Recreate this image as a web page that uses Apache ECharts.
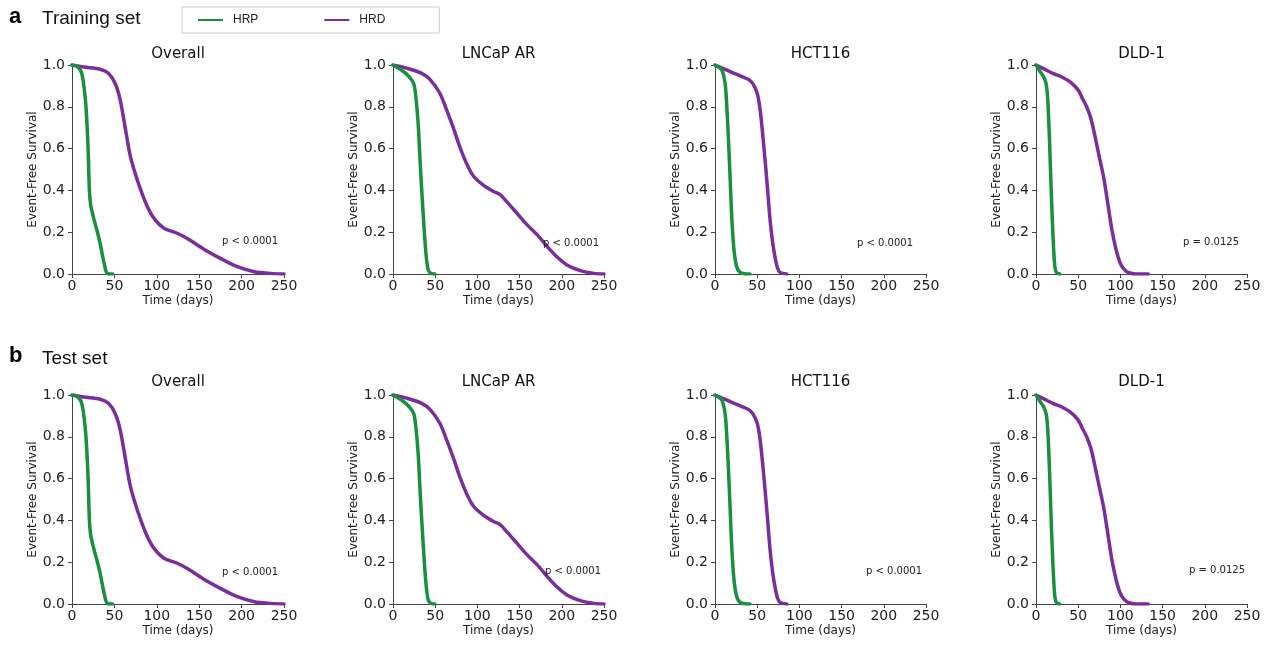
<!DOCTYPE html>
<html>
<head>
<meta charset="utf-8">
<script src="https://cdn.jsdelivr.net/npm/echarts@6/dist/echarts.min.js"></script>
<style>
  html, body { margin: 0; padding: 0; background: #ffffff; }
  #chart { width: 1270px; height: 646px; }
</style>
</head>
<body>
<div id="chart"></div>
<script>
// ---------- DATA ----------
const panelTitles = ['Overall', 'LNCaP AR', 'HCT116', 'DLD-1'];
const seriesNames = ['HRP', 'HRD'];
const xTicks = [0, 50, 100, 150, 200, 250];
const yTicks = [0.0, 0.2, 0.4, 0.6, 0.8, 1.0];
const pTextsTrain = ['p < 0.0001', 'p < 0.0001', 'p < 0.0001', 'p = 0.0125'];
const pTextsTest = ['p < 0.0001', 'p < 0.0001', 'p < 0.0001', 'p = 0.0125'];

// Overall
const overallHRP_t = [0, 5, 10, 12, 14, 16.5, 19, 20.5, 22, 23.6, 26, 30, 33, 35.4, 38, 40.5, 44, 48];
const overallHRP_s = [1, 0.995, 0.975, 0.95, 0.9, 0.8, 0.6, 0.4, 0.33, 0.3, 0.26, 0.2, 0.15, 0.1, 0.05, 0.01, 0, 0];
const overallHRD_t = [0, 14, 33, 43, 51, 57, 64, 69, 77, 87, 96, 108, 124, 136, 155, 175, 195, 215, 234, 250];
const overallHRD_s = [1, 0.99, 0.98, 0.96, 0.91, 0.83, 0.67, 0.56, 0.45, 0.34, 0.27, 0.22, 0.195, 0.17, 0.12, 0.075, 0.035, 0.011, 0.003, 0];
// LNCaP AR
const lncapHRP_t = [0, 12, 20, 24.6, 27, 29.8, 32.5, 35.7, 39, 41.7, 45, 49.6];
const lncapHRP_s = [1, 0.97, 0.94, 0.91, 0.85, 0.72, 0.51, 0.29, 0.10, 0.02, 0.003, 0];
const lncapHRD_t = [0, 16, 34, 44, 55.5, 63.5, 71.4, 79, 87, 95, 107, 119, 127, 135, 147, 159, 171, 183, 194, 206, 222, 238, 250];
const lncapHRD_s = [1, 0.985, 0.96, 0.93, 0.865, 0.785, 0.70, 0.61, 0.53, 0.47, 0.425, 0.395, 0.38, 0.345, 0.29, 0.235, 0.187, 0.13, 0.083, 0.043, 0.016, 0.003, 0];
// HCT116
const hctHRP_t = [0, 8, 12, 14, 16, 18, 20, 22.5, 25.7, 29.7, 35, 41.5];
const hctHRP_s = [1, 0.976, 0.91, 0.80, 0.64, 0.45, 0.26, 0.115, 0.035, 0.008, 0.001, 0];
const hctHRD_t = [0, 10, 20, 30, 40, 45, 50, 53, 56, 59, 62, 65, 68, 71, 74, 77, 85];
const hctHRD_s = [1, 0.983, 0.965, 0.948, 0.93, 0.91, 0.865, 0.80, 0.69, 0.56, 0.42, 0.27, 0.16, 0.083, 0.03, 0.008, 0];
// DLD-1
const dldHRP_t = [0, 5, 9, 12, 14, 16, 18, 20, 22, 24, 28];
const dldHRP_s = [1, 0.968, 0.944, 0.91, 0.83, 0.64, 0.40, 0.195, 0.05, 0.008, 0];
const dldHRD_t = [0, 10, 20, 30, 40, 50, 55, 60, 65, 70, 75, 80, 85, 90, 95, 100, 105, 110, 118, 133];
const dldHRD_s = [1, 0.98, 0.96, 0.944, 0.92, 0.88, 0.84, 0.80, 0.745, 0.657, 0.56, 0.466, 0.34, 0.21, 0.115, 0.05, 0.02, 0.006, 0, 0];

// Test set curves (identical to the training panels in the reference)
const trainCurves = [
  [[overallHRP_t, overallHRP_s], [overallHRD_t, overallHRD_s]],
  [[lncapHRP_t, lncapHRP_s], [lncapHRD_t, lncapHRD_s]],
  [[hctHRP_t, hctHRP_s], [hctHRD_t, hctHRD_s]],
  [[dldHRP_t, dldHRP_s], [dldHRD_t, dldHRD_s]]
];
const testCurves = trainCurves;

// ---------- LAYOUT / STYLE ----------
const colors = ['#17903f', '#7b2d9d'];
const FONT = 'DejaVu Sans';
const gridLefts = [72, 393, 715, 1036];
const gridWidths = [212, 211, 211, 211];
const rowTops = [65, 395];
const gridHeight = 209;
const titleCY = [55, 383];
const pPos = [
  [[250, 241], [571, 243], [885, 243], [1211, 242]],
  [[250, 572], [573, 571], [894, 571], [1217, 570]]
];

const grids = [], xAxes = [], yAxes = [], series = [], titles = [], graphics = [];

const rows = [trainCurves, testCurves];
const pTexts = [pTextsTrain, pTextsTest];
let gi = 0;
rows.forEach((curves, r) => {
  curves.forEach((pair, c) => {
    grids.push({ left: gridLefts[c], top: rowTops[r], width: gridWidths[c], height: gridHeight, containLabel: false });
    xAxes.push({
      gridIndex: gi, type: 'value', min: 0, max: 250, interval: 50,
      name: 'Time (days)', nameLocation: 'middle', nameGap: 21,
      nameTextStyle: { fontFamily: FONT, fontSize: 12, color: '#222' },
      axisLine: { show: true, lineStyle: { color: '#444', width: 1 } },
      axisTick: { show: true, length: 4, lineStyle: { color: '#444' } },
      axisLabel: { fontFamily: FONT, fontSize: 14, color: '#222', margin: 5 },
      splitLine: { show: false }
    });
    yAxes.push({
      gridIndex: gi, type: 'value', min: 0, max: 1, interval: 0.2,
      name: 'Event-Free Survival', nameLocation: 'middle', nameGap: 33,
      nameTextStyle: { fontFamily: FONT, fontSize: 12, color: '#222' },
      axisLine: { show: true, lineStyle: { color: '#444', width: 1 } },
      axisTick: { show: true, length: 4, lineStyle: { color: '#444' } },
      axisLabel: { fontFamily: FONT, fontSize: 14, color: '#222', margin: 7, formatter: v => v.toFixed(1) },
      splitLine: { show: false }
    });
    pair.forEach((curve, k) => {
      const [t, s] = curve;
      series.push({
        name: seriesNames[k], type: 'line', xAxisIndex: gi, yAxisIndex: gi,
        data: t.map((x, i) => [x, s[i]]),
        showSymbol: false, symbol: 'none',
        smooth: 0.3,
        clip: true,
        lineStyle: { color: colors[k], width: 3.5, cap: 'round', join: 'round' },
        itemStyle: { color: colors[k] },
        z: k === 0 ? 3 : 2,
        animation: false
      });
    });
    titles.push({
      text: panelTitles[c], left: gridLefts[c] + gridWidths[c] / 2, top: titleCY[r] - 8,
      textAlign: 'center', padding: 0,
      textStyle: { fontFamily: FONT, fontSize: 15, fontWeight: 'normal', color: '#111' }
    });
    graphics.push({
      type: 'text', x: pPos[r][c][0], y: pPos[r][c][1],
      style: { text: pTexts[r][c], font: '10px "DejaVu Sans"', fill: '#222', align: 'center', verticalAlign: 'middle' },
      z: 10
    });
    gi++;
  });
});

// panel labels
titles.push({ text: 'a', left: 9, top: 6, padding: 0, textStyle: { fontFamily: 'Liberation Sans', fontSize: 22, fontWeight: 'bold', color: '#000' } });
titles.push({ text: 'Training set', left: 42, top: 9, padding: 0, textStyle: { fontFamily: 'Liberation Sans', fontSize: 19, fontWeight: 'normal', color: '#111' } });
titles.push({ text: 'b', left: 9, top: 345, padding: 0, textStyle: { fontFamily: 'Liberation Sans', fontSize: 22, fontWeight: 'bold', color: '#000' } });
titles.push({ text: 'Test set', left: 42, top: 349, padding: 0, textStyle: { fontFamily: 'Liberation Sans', fontSize: 19, fontWeight: 'normal', color: '#111' } });

const chart = echarts.init(document.getElementById('chart'), null, { renderer: 'canvas' });
chart.setOption({
  animation: false,
  backgroundColor: '#ffffff',
  title: titles,
  legend: {
    data: seriesNames,
    left: 182, top: 7,
    orient: 'horizontal',
    icon: 'rect', itemWidth: 25, itemHeight: 2,
    itemGap: 66,
    padding: [7, 54, 7, 16],
    borderColor: '#cccccc', borderWidth: 1,
    textStyle: { fontFamily: 'Liberation Sans', fontSize: 12, color: '#222', padding: [0, 0, 0, 5] }
  },
  grid: grids,
  xAxis: xAxes,
  yAxis: yAxes,
  series: series,
  graphic: graphics
});
</script>
</body>
</html>
